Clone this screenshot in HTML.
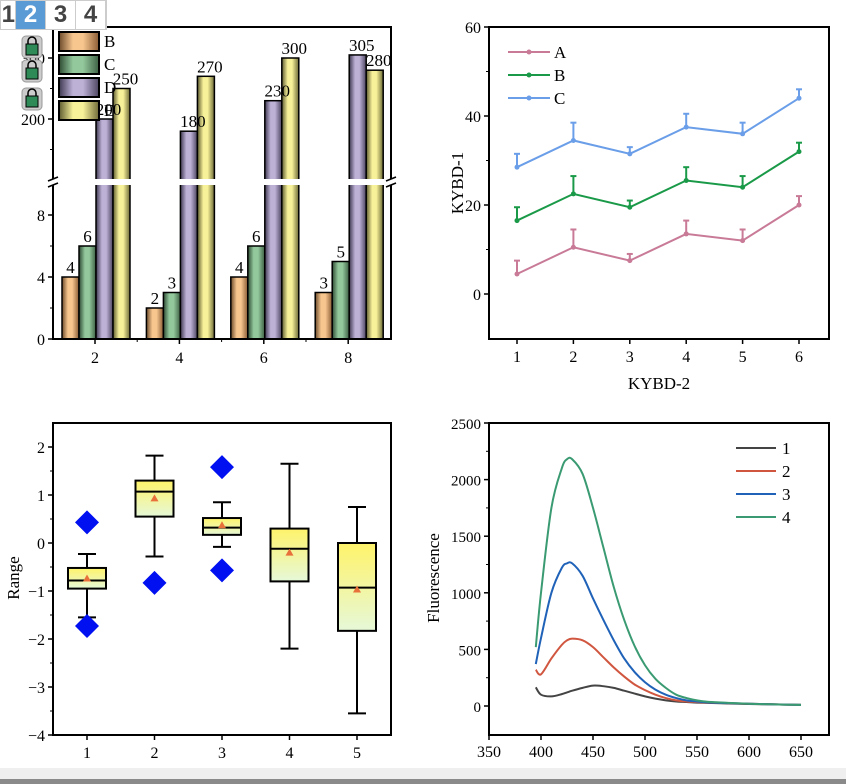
<!DOCTYPE html>
<html><head><meta charset="utf-8"><style>
body{margin:0;background:#fff;width:846px;height:784px;overflow:hidden;font-family:"Liberation Serif",serif}
svg{position:absolute;left:0;top:0}
.tabs{position:absolute;left:0;top:0;height:28px;display:flex;font-family:"Liberation Sans",sans-serif;font-weight:bold;font-size:24px;color:#444;border:1px solid #ccc;background:#fff}
.tabs div{width:29px;text-align:center;line-height:28px;border-right:1px solid #ccc}
</style></head><body>
<svg id="fig" width="846" height="784" xmlns="http://www.w3.org/2000/svg" font-family="Liberation Serif, serif" font-size="14">
<defs>
<linearGradient id="gB" x1="0" x2="1"><stop offset="0" stop-color="#6b4a2a"/><stop offset="0.35" stop-color="#f7c68f"/><stop offset="0.6" stop-color="#f7c68f"/><stop offset="1" stop-color="#8a5c34"/></linearGradient>
<linearGradient id="gC" x1="0" x2="1"><stop offset="0" stop-color="#2e4a33"/><stop offset="0.35" stop-color="#93c89c"/><stop offset="0.6" stop-color="#93c89c"/><stop offset="1" stop-color="#3d6044"/></linearGradient>
<linearGradient id="gD" x1="0" x2="1"><stop offset="0" stop-color="#3e3850"/><stop offset="0.35" stop-color="#bdb1d6"/><stop offset="0.6" stop-color="#bdb1d6"/><stop offset="1" stop-color="#4c4560"/></linearGradient>
<linearGradient id="gE" x1="0" x2="1"><stop offset="0" stop-color="#5c5a30"/><stop offset="0.35" stop-color="#f7f199"/><stop offset="0.6" stop-color="#f7f199"/><stop offset="1" stop-color="#6e6a38"/></linearGradient>
<linearGradient id="gBox" x1="0" y1="0" x2="0" y2="1"><stop offset="0" stop-color="#fff36a"/><stop offset="1" stop-color="#e6f8d8"/></linearGradient>
</defs>
<rect x="0" y="768" width="846" height="11" fill="#efefef"/>
<rect x="0" y="779" width="846" height="5" fill="#8a8a8a"/>
</svg>
<div class="tabs">
<div style="width:14px;text-align:right">1</div>
<div style="background:#5b9bd5;color:#fff">2</div>
<div>3</div>
<div>4</div>
</div>
<script>
// ---- bar chart data
const barCats=[2,4,6,8];
const barB=[4,2,4,3];
const barC=[6,3,6,5];
const barD=[200,180,230,305];
const barE=[250,270,300,280];
// ---- line chart data
const lineX=[1,2,3,4,5,6];
const lineA=[4.5,10.5,7.5,13.5,12,20];
const lineB=[16.5,22.5,19.5,25.5,24,32];
const lineC=[28.5,34.5,31.5,37.5,36,44];
const errA=[3,4,1.5,3,2.5,2];
const errB=[3,4,1.5,3,2.5,2];
const errC=[3,4,1.5,3,2.5,2];
// ---- box data
const boxCats=[1,2,3,4,5];
const boxMin=[-1.55,-0.28,-0.08,-2.2,-3.55];
const boxQ1=[-0.95,0.55,0.17,-0.8,-1.83];
const boxMed=[-0.78,1.07,0.32,-0.12,-0.93];
const boxQ3=[-0.52,1.3,0.52,0.3,0];
const boxMax=[-0.23,1.82,0.85,1.65,0.75];
const boxMean=[-0.74,0.93,0.37,-0.2,-0.97];
const outCat=[1,1,2,3,3];
const outVal=[0.43,-1.73,-0.83,1.58,-0.57];
// ---- fluorescence data
const fX=[395,400,410,420,425,430,440,450,460,470,480,490,500,510,520,530,540,550,560,580,600,620,650];
const f1=[165,100,85,105,120,135,160,180,175,160,135,110,85,65,50,40,35,30,28,22,18,15,10];
const f2=[320,280,420,540,580,595,580,520,430,340,260,190,140,100,70,50,40,35,30,25,20,15,10];
const f3=[370,600,1000,1220,1260,1260,1150,950,760,580,420,300,210,145,100,70,50,40,32,25,20,15,10];
const f4=[520,1000,1750,2100,2180,2180,2050,1750,1400,1050,760,530,360,240,160,100,70,50,38,28,20,15,10];

const svg=document.getElementById('fig');
const NS='http://www.w3.org/2000/svg';
function mk(tag,at,parent){const e=document.createElementNS(NS,tag);for(const k in at)e.setAttribute(k,at[k]);(parent||svg).appendChild(e);return e;}
function txt(s,x,y,anchor,size,parent){const t=mk('text',{x:x,y:y,'text-anchor':anchor||'middle','font-size':size||14},parent);t.textContent=s;return t;}

// ===== Panel 1: bar chart with break
(function(){
 const g=mk('g',{});
 
 
 const L=53,R=391,T=27,B=339,brk=182;
 const yLo=v=>339-v*15.5;
 const yHi=v=>119-(v-200)*0.61;
 const xc=c=>95+(c-2)*42.2;
 const series=[[barB,'gB'],[barC,'gC'],[barD,'gD'],[barE,'gE']];
 series.forEach((s,si)=>{s[0].forEach((v,i)=>{
  const x=xc(barCats[i])-33+17*si, y=v<=10?yLo(v):yHi(v);
  const r=mk('rect',{x:x,y:y,width:17,height:B-y,fill:'url(#'+s[1]+')',stroke:'#000','stroke-width':1.5},g);
  
  
 });});
 mk('rect',{x:L+2,y:brk-3,width:R-L-4,height:6,fill:'#fff'},g);
 series.forEach((s,si)=>{s[0].forEach((v,i)=>{
  const x=xc(barCats[i])-33+17*si, y=v<=10?yLo(v):yHi(v);
  const t=txt(String(v),x+8.5+(si>=2?4:0),y-4,'middle',17,g);
  
  
 });});
 mk('rect',{x:L,y:T,width:R-L,height:B-T,fill:'none',stroke:'#000','stroke-width':2},g);
 mk('rect',{x:L-4,y:brk-3,width:8,height:6,fill:'#fff'},g);
 mk('rect',{x:R-4,y:brk-3,width:8,height:6,fill:'#fff'},g);
 [[L,brk-3],[L,brk+3],[R,brk-3],[R,brk+3]].forEach(p=>mk('line',{x1:p[0]-5,y1:p[1]+2,x2:p[0]+5,y2:p[1]-2,stroke:'#000','stroke-width':1.5},g));
 [0,4,8].forEach(v=>{mk('line',{x1:L-5,y1:yLo(v),x2:L,y2:yLo(v),stroke:'#000','stroke-width':1.5},g);txt(String(v),L-8,yLo(v)+6,'end',16,g);});
 [2,6].forEach(v=>mk('line',{x1:L-3,y1:yLo(v),x2:L,y2:yLo(v),stroke:'#000'},g));
 [200,300].forEach(v=>{mk('line',{x1:L-5,y1:yHi(v),x2:L,y2:yHi(v),stroke:'#000','stroke-width':1.5},g);txt(String(v),L-8,yHi(v)+6,'end',16,g);});
 [150,250].forEach(v=>mk('line',{x1:L-3,y1:yHi(v),x2:L,y2:yHi(v),stroke:'#000'},g));
 barCats.forEach(c=>{mk('line',{x1:xc(c),y1:B,x2:xc(c),y2:B+5,stroke:'#000','stroke-width':1.5},g);txt(String(c),xc(c),B+24,'middle',16,g);});
 [3,5,7].forEach(c=>mk('line',{x1:xc(c),y1:B,x2:xc(c),y2:B+3,stroke:'#000'},g));
 ['B','C','D','E'].forEach((n,i)=>{
  const y=32+i*23;
  const r=mk('rect',{x:59,y:y,width:40,height:19,fill:'url(#'+series[i][1]+')',stroke:'#000','stroke-width':2},g);
  
  
  txt(n,104,y+15,'start',17,g);
 });
 [36,60,88].forEach(y=>{
  mk('rect',{x:22,y:y,width:20,height:22,rx:4,fill:'#ccc',stroke:'#999'},g);
  mk('rect',{x:26,y:y+8,width:12,height:11,fill:'#2e8b57',stroke:'#000'},g);
  mk('path',{d:`M28 ${y+8} v-3 a4 4 0 0 1 8 0 v3`,fill:'none',stroke:'#000','stroke-width':1.5},g);
 });
})();

// ===== Panel 2: line chart
(function(){
 const g=mk('g',{});
 
 
 const L=489,R=829,T=27,B=339;
 const xs=v=>517+(v-1)*56.4, ys=v=>294-v*4.45;
 mk('rect',{x:L,y:T,width:R-L,height:B-T,fill:'none',stroke:'#000','stroke-width':2},g);
 [0,20,40,60].forEach(v=>{mk('line',{x1:L-5,y1:ys(v),x2:L,y2:ys(v),stroke:'#000','stroke-width':1.5},g);txt(String(v),L-8,ys(v)+6,'end',16,g);});
 [10,30,50].forEach(v=>mk('line',{x1:L-3,y1:ys(v),x2:L,y2:ys(v),stroke:'#000'},g));
 lineX.forEach(v=>{mk('line',{x1:xs(v),y1:B,x2:xs(v),y2:B+5,stroke:'#000','stroke-width':1.5},g);txt(String(v),xs(v),B+23,'middle',16,g);});
 txt('KYBD-2',659,389,'middle',17,g);
 const yt=txt('KYBD-1',0,0,'middle',17,g);yt.setAttribute('transform','translate(463,183) rotate(-90)');
 const S=[[lineA,errA,'#c87a97','A'],[lineB,errB,'#1a9a48','B'],[lineC,errC,'#6a9ee8','C']];
 S.forEach((s,si)=>{
  s[0].forEach((v,i)=>{const x=xs(lineX[i]);mk('line',{x1:x,y1:ys(v),x2:x,y2:ys(v+s[1][i]),stroke:s[2],'stroke-width':2},g);mk('line',{x1:x-3,y1:ys(v+s[1][i]),x2:x+3,y2:ys(v+s[1][i]),stroke:s[2],'stroke-width':2},g);});
  const p=mk('polyline',{points:s[0].map((v,i)=>xs(lineX[i])+','+ys(v)).join(' '),fill:'none',stroke:s[2],'stroke-width':2},g);
  
  
  s[0].forEach((v,i)=>mk('circle',{cx:xs(lineX[i]),cy:ys(v),r:2.5,fill:s[2]},g));
  const ly=52+si*23;
  mk('line',{x1:508,y1:ly,x2:550,y2:ly,stroke:s[2],'stroke-width':2},g);
  mk('circle',{cx:529,cy:ly,r:2.5,fill:s[2]},g);
  txt(s[3],554,ly+6,'start',17,g);
 });
})();

// ===== Panel 3: box plot
(function(){
 const g=mk('g',{});
 
 
 const L=53,R=391,T=423,B=735;
 const xs=c=>87+(c-1)*67.5, ys=v=>543-v*48;
 mk('rect',{x:L,y:T,width:R-L,height:B-T,fill:'none',stroke:'#000','stroke-width':2},g);
 [-4,-3,-2,-1,0,1,2].forEach(v=>{mk('line',{x1:L-5,y1:ys(v),x2:L,y2:ys(v),stroke:'#000','stroke-width':1.5},g);txt((v<0?'\u2212':'')+Math.abs(v),L-8,ys(v)+6,'end',16,g);});
 [-3.5,-2.5,-1.5,-0.5,0.5,1.5].forEach(v=>mk('line',{x1:L-3,y1:ys(v),x2:L,y2:ys(v),stroke:'#000'},g));
 boxCats.forEach(c=>{mk('line',{x1:xs(c),y1:B,x2:xs(c),y2:B+5,stroke:'#000','stroke-width':1.5},g);txt(String(c),xs(c),B+23,'middle',16,g);});
 const yt=txt('Range',0,0,'middle',17,g);yt.setAttribute('transform','translate(19,578) rotate(-90)');
 boxCats.forEach((c,i)=>{
  const x=xs(c),w=19;
  mk('line',{x1:x,y1:ys(boxMin[i]),x2:x,y2:ys(boxMax[i]),stroke:'#000','stroke-width':2},g);
  mk('line',{x1:x-9,y1:ys(boxMin[i]),x2:x+9,y2:ys(boxMin[i]),stroke:'#000','stroke-width':2},g);
  mk('line',{x1:x-9,y1:ys(boxMax[i]),x2:x+9,y2:ys(boxMax[i]),stroke:'#000','stroke-width':2},g);
  const r=mk('rect',{x:x-w,y:ys(boxQ3[i]),width:2*w,height:ys(boxQ1[i])-ys(boxQ3[i]),fill:'url(#gBox)',stroke:'#000','stroke-width':2},g);
  
  
  mk('line',{x1:x-w,y1:ys(boxMed[i]),x2:x+w,y2:ys(boxMed[i]),stroke:'#000','stroke-width':2},g);
  const m=ys(boxMean[i]);
  mk('polygon',{points:`${x-4},${m+3} ${x+4},${m+3} ${x},${m-4}`,fill:'#e8703a'},g);
 });
 outVal.forEach((v,i)=>{const x=xs(outCat[i]),y=ys(v);
  const d=mk('polygon',{points:`${x},${y-12} ${x+12},${y} ${x},${y+12} ${x-12},${y}`,fill:'#0010f0'},g);
  
  
 });
})();

// ===== Panel 4: fluorescence
(function(){
 const g=mk('g',{});
 
 
 const L=489,R=829,T=423,B=735;
 const xs=v=>489+(v-350)*1.04, ys=v=>706-v*0.1132;
 mk('rect',{x:L,y:T,width:R-L,height:B-T,fill:'none',stroke:'#000','stroke-width':2},g);
 [0,500,1000,1500,2000,2500].forEach(v=>{mk('line',{x1:L-5,y1:ys(v),x2:L,y2:ys(v),stroke:'#000','stroke-width':1.5},g);txt(String(v),L-8,ys(v)+6,'end',15,g);});
 [250,750,1250,1750,2250].forEach(v=>mk('line',{x1:L-3,y1:ys(v),x2:L,y2:ys(v),stroke:'#000'},g));
 [350,400,450,500,550,600,650].forEach(v=>{mk('line',{x1:xs(v),y1:B,x2:xs(v),y2:B+5,stroke:'#000','stroke-width':1.5},g);txt(String(v),xs(v),B+22,'middle',16,g);});
 const yt=txt('Fluorescence',0,0,'middle',17,g);yt.setAttribute('transform','translate(439,578) rotate(-90)');
 function smooth(pts){let d='M'+pts[0][0]+','+pts[0][1];
  for(let i=0;i<pts.length-1;i++){const p0=pts[Math.max(0,i-1)],p1=pts[i],p2=pts[i+1],p3=pts[Math.min(pts.length-1,i+2)];
   d+=` C${p1[0]+(p2[0]-p0[0])/6},${p1[1]+(p2[1]-p0[1])/6} ${p2[0]-(p3[0]-p1[0])/6},${p2[1]-(p3[1]-p1[1])/6} ${p2[0]},${p2[1]}`;}
  return d;}
 const S=[[f1,'#444444','1'],[f2,'#d0563f','2'],[f3,'#1f62b8','3'],[f4,'#3a9a72','4']];
 S.forEach((s,si)=>{
  const p=mk('path',{d:smooth(s[0].map((v,i)=>[xs(fX[i]),ys(v)])),fill:'none',stroke:s[1],'stroke-width':2},g);
  
  
  const ly=448+si*23;
  mk('line',{x1:736,y1:ly,x2:776,y2:ly,stroke:s[1],'stroke-width':2},g);
  txt(s[2],782,ly+6,'start',17,g);
 });
})();
</script>
</body></html>
